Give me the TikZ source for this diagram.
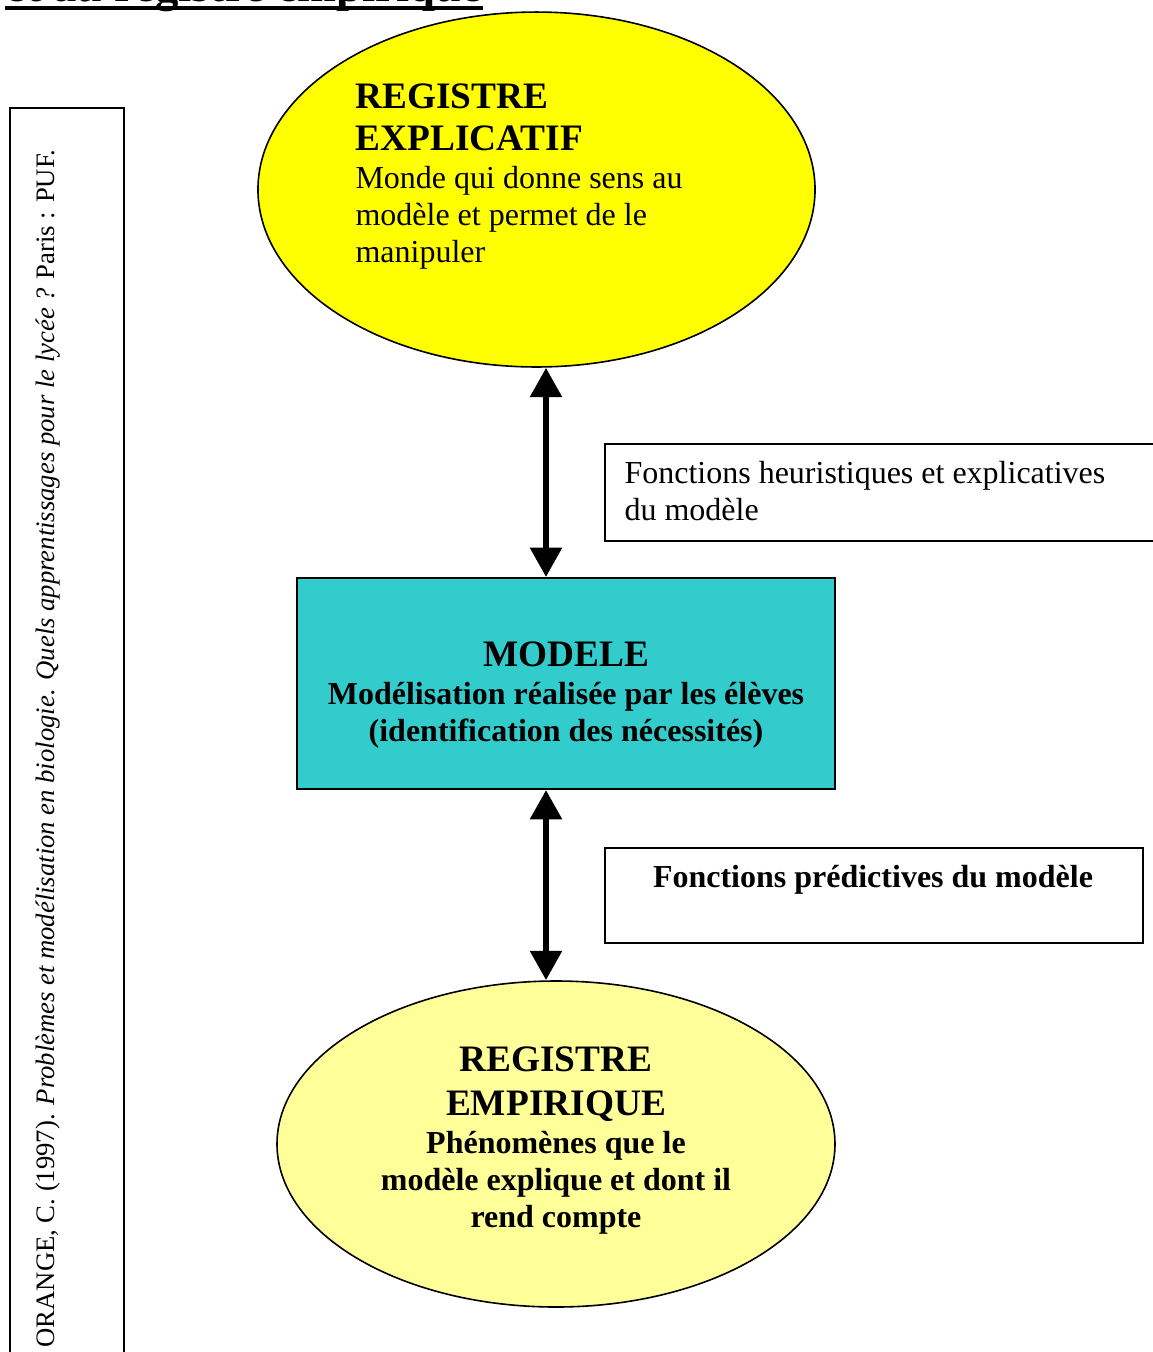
\documentclass[tikz,border=0pt]{standalone}
\usepackage{fontspec}
\setmainfont{Liberation Serif}
\usetikzlibrary{shapes.geometric,arrows.meta}
\definecolor{regjaune}{RGB}{255,255,0}
\definecolor{regpale}{RGB}{255,255,153}
\definecolor{modeleteal}{RGB}{51,204,204}
\newcommand{\regfont}{\fontsize{14}{16}\selectfont\bfseries}

\begin{document}
\begin{tikzpicture}[x=0.375pt,y=-0.375pt,
  registre/.style={ellipse, draw, line width=0.6pt, inner sep=0pt},
  fonction/.style={rectangle, draw, line width=0.75pt, inner sep=0pt},
  dblarrow/.style={{Triangle[width=11.5pt,length=11pt]}-{Triangle[width=11.5pt,length=11pt]}, line width=2.4pt},
  txt/.style={inner sep=0pt, font=\fontsize{12}{13.9}\selectfont}]
  \useasboundingbox (0,0) rectangle (1153,1352);
  % titre coupe en haut
  \node (titre) [anchor=base west, inner sep=0pt, font=\fontsize{17.5}{20}\selectfont\bfseries] at (5,1) {et au registre empirique};
  \draw[line width=1.5pt] ([yshift=-2.6pt]titre.base west) -- ([yshift=-2.6pt]titre.base east);
  % reference a gauche
  \draw[line width=0.75pt] (10,108) rectangle (124,1360);
  \node (ref) [rotate=90, anchor=base west, inner sep=0pt, font=\fontsize{10}{12}\selectfont] at (55,1348)
    {ORANGE, C. (1997). \textit{Problèmes et modélisation en biologie. Quels apprentissages pour le lycée ?} Paris : PUF.};
  % registre explicatif
  \node (explic) [registre, fill=regjaune, minimum width=208.9pt, minimum height=133.1pt] at (536.5,189.5) {};
  \node (explictxt) [txt, anchor=north west, align=left] at (355,83)
    {{\regfont REGISTRE}\\[1.9pt]{\regfont EXPLICATIF}\\[0.5pt]Monde qui donne sens au\\modèle et permet de le\\manipuler};
  % modele
  \node (modele) [fonction, fill=modeleteal, minimum width=201.75pt, minimum height=79.1pt] at (566,683.5) {};
  \node (modeletxt) [txt, anchor=north, align=center, font=\fontsize{12}{13.9}\selectfont\bfseries] at (566,641)
    {{\regfont MODELE}\\[0.3pt]Modélisation réalisée par les élèves\\(identification des nécessités)};
  % registre empirique
  \node (empir) [registre, fill=regpale, minimum width=209.25pt, minimum height=122.25pt] at (556,1144) {};
  \node (empirtxt) [txt, anchor=north, align=center, font=\fontsize{12}{13.9}\selectfont\bfseries] at (556,1046)
    {{\regfont REGISTRE}\\[2.6pt]{\regfont EMPIRIQUE}\\[0.3pt]Phénomènes que le\\modèle explique et dont il\\rend compte};
  % fonctions
  \node (heur) [fonction, anchor=north west, minimum width=209.6pt, minimum height=36.4pt] at (604,443) {};
  \node (heurtxt) [txt, anchor=north west, align=left] at (624,461)
    {Fonctions heuristiques et explicatives\\du modèle};
  \node (pred) [fonction, anchor=north west, minimum width=201.75pt, minimum height=35.6pt] at (604,847) {};
  \node (predtxt) [txt, anchor=north, font=\fontsize{12}{13.9}\selectfont\bfseries] at (873,865)
    {Fonctions prédictives du modèle};
  % fleches
  \coordinate (axe) at (546,0);
  \draw[dblarrow] (explic.south -| axe) -- (modele.north -| axe);
  \draw[dblarrow] (modele.south -| axe) -- (empir.north -| axe);
\end{tikzpicture}
\end{document}
